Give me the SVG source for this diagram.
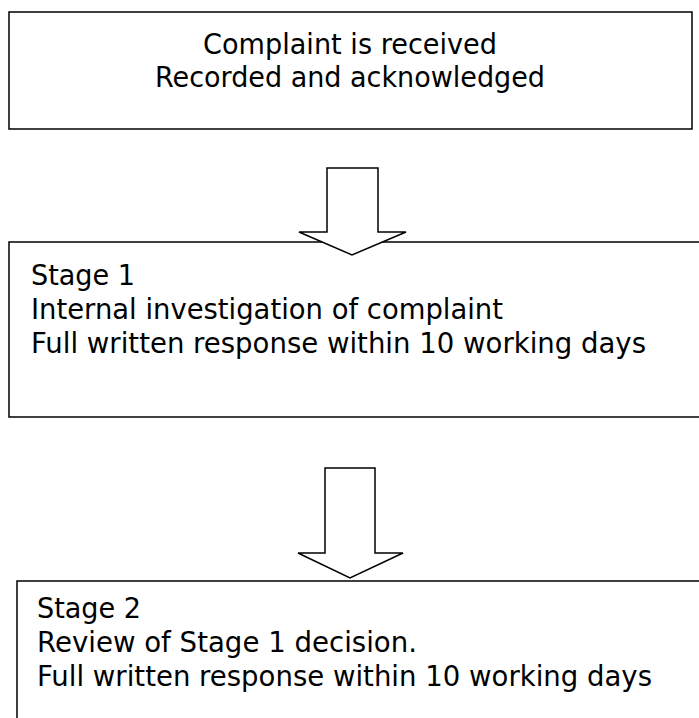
<svg xmlns="http://www.w3.org/2000/svg" width="699" height="718" viewBox="0 0 699 718">
<style>
.box{fill:#fff;stroke:#000;stroke-width:1.5}
.arr{fill:#fff;stroke:#000;stroke-width:1.5;stroke-linejoin:miter}
text{font-family:"DejaVu Sans",sans-serif;font-size:28px;fill:#000}
</style>
<rect width="699" height="718" fill="#fff"/>
<g id="node-received">
<rect class="box" x="9" y="12" width="683" height="117"/>
<text x="350" y="54" text-anchor="middle" textLength="294" lengthAdjust="spacingAndGlyphs">Complaint is received</text>
<text x="350" y="87" text-anchor="middle" textLength="390" lengthAdjust="spacingAndGlyphs">Recorded and acknowledged</text>
</g>
<g id="node-stage1">
<rect class="box" x="9" y="242" width="710" height="175"/>
<text x="31" y="285" textLength="104" lengthAdjust="spacingAndGlyphs">Stage 1</text>
<text x="31" y="319" textLength="472" lengthAdjust="spacingAndGlyphs">Internal investigation of complaint</text>
<text x="31" y="353" textLength="615" lengthAdjust="spacingAndGlyphs">Full written response within 10 working days</text>
</g>
<g id="node-stage2">
<rect class="box" x="17" y="581" width="700" height="160"/>
<text x="37" y="618" textLength="104" lengthAdjust="spacingAndGlyphs">Stage 2</text>
<text x="37" y="652" textLength="380" lengthAdjust="spacingAndGlyphs">Review of Stage 1 decision.</text>
<text x="37" y="686" textLength="615" lengthAdjust="spacingAndGlyphs">Full written response within 10 working days</text>
</g>
<g id="connectors">
<polygon class="arr" points="327,168 378,168 378,232 406,232 352,255 299,232 327,232"/>
<polygon class="arr" points="325,468 375,468 375,553 403,553 350,578 298,553 325,553"/>
</g>
</svg>
